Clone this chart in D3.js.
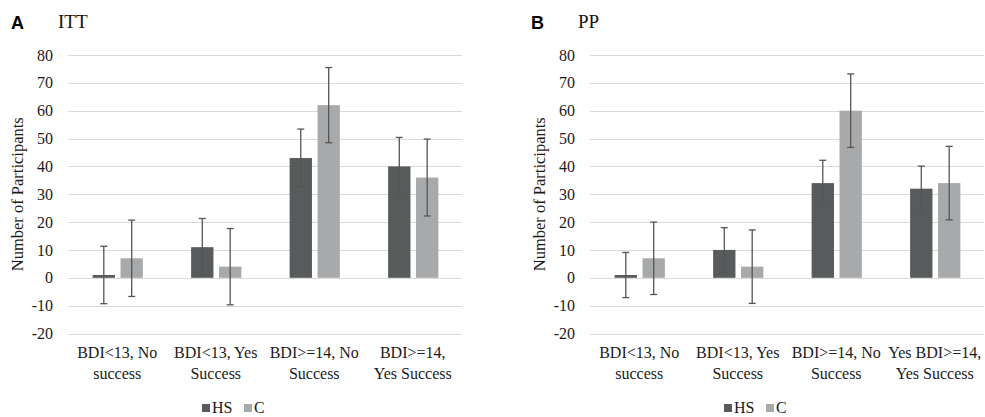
<!DOCTYPE html>
<html>
<head>
<meta charset="utf-8">
<script src="https://cdn.jsdelivr.net/npm/d3@7"></script>
<style>
  body { margin: 0; background: #fff; }
  svg { display: block; }
</style>
</head>
<body>
<div id="chart"></div>
<script>
// values
var series = ["HS", "C"];
var yTicks = [-20, -10, 0, 10, 20, 30, 40, 50, 60, 70, 80];

var catsITT = [["BDI<13, No", "success"], ["BDI<13, Yes", "Success"], ["BDI>=14, No", "Success"], ["BDI>=14,", "Yes Success"]];
var ittHS = [1, 11, 43, 40];
var ittC = [7, 4, 62, 36];
var ittErrHS = [10.3, 10.3, 10.4, 10.4];
var ittErrC = [13.7, 13.7, 13.5, 13.8];

var catsPP = [["BDI<13, No", "success"], ["BDI<13, Yes", "Success"], ["BDI>=14, No", "Success"], ["Yes BDI>=14,", "Yes Success"]];
var ppHS = [1, 10, 34, 32];
var ppC = [7, 4, 60, 34];
var ppErrHS = [8.1, 8.0, 8.2, 8.1];
var ppErrC = [13.0, 13.2, 13.2, 13.2];

var colors = { HS: "#575b5c", C: "#a7a9aa" };
var serif = "'Liberation Serif', 'Times New Roman', serif";

var W = 985, H = 417;
var svg = d3.select("#chart").append("svg")
    .attr("width", W).attr("height", H);

function drawPanel(opts) {
    var g = svg.append("g");
    var x0 = opts.left, x1 = opts.left + 394;

    var y = d3.scaleLinear().domain([-20, 80]).range([333.5, 55]);
    var x = d3.scaleBand().domain(d3.range(opts.cats.length)).range([x0, x1]);
    var xs = d3.scaleBand().domain(series)
        .range([x.bandwidth() * 0.25, x.bandwidth() * 0.76]).paddingInner(0.2);

    // panel letter + title
    g.append("text")
        .style("font-family", "'Liberation Sans', Arial, sans-serif").style("font-weight", "bold")
        .attr("x", opts.letterX).attr("y", 29).attr("font-size", 18)
        .text(opts.letter);
    g.append("text").style("font-family", serif).attr("fill", "#111")
        .attr("x", opts.letterX + opts.titleDx).attr("y", 28).attr("font-size", 19)
        .text(opts.title);

    // gridlines
    g.append("g").selectAll("line").data(yTicks).join("line")
        .attr("x1", x0).attr("x2", x1)
        .attr("y1", function(d) { return Math.round(y(d)) + 0.5; })
        .attr("y2", function(d) { return Math.round(y(d)) + 0.5; })
        .attr("stroke", "#d9d9d9").attr("stroke-width", 1);

    // y axis labels
    var ax = g.append("g")
        .attr("transform", "translate(" + (x0 - 7) + ",0)")
        .call(d3.axisLeft(y).tickValues(yTicks).tickSize(0).tickPadding(8)
            .tickFormat(function(d) { return String(d); }));
    ax.select(".domain").remove();
    ax.selectAll("text")
        .style("font-family", serif).style("font-size", "16px")
        .attr("fill", "#1a1a1a");

    g.append("text").style("font-family", serif).attr("fill", "#1a1a1a")
        .attr("transform", "translate(" + (opts.left - 45) + "," + y(30) + ") rotate(-90)")
        .attr("text-anchor", "middle").style("font-size", "16.5px")
        .text("Number of Participants");

    // bars
    var rows = [];
    opts.cats.forEach(function(c, i) {
        rows.push({ i: i, s: "HS", v: opts.hs[i], e: opts.errHS[i] });
        rows.push({ i: i, s: "C", v: opts.c[i], e: opts.errC[i] });
    });

    g.append("g").selectAll("rect").data(rows).join("rect")
        .attr("x", function(d) { return x(d.i) + xs(d.s); })
        .attr("width", xs.bandwidth())
        .attr("y", function(d) { return y(Math.max(0, d.v)); })
        .attr("height", function(d) { return Math.abs(y(d.v) - y(0)); })
        .attr("fill", function(d) { return colors[d.s]; });

    // error bars
    var eb = g.append("g").selectAll("g").data(rows).join("g")
        .attr("stroke", "#555").attr("stroke-width", 1.3);
    eb.append("line")
        .attr("x1", function(d) { return x(d.i) + xs(d.s) + xs.bandwidth() / 2; })
        .attr("x2", function(d) { return x(d.i) + xs(d.s) + xs.bandwidth() / 2; })
        .attr("y1", function(d) { return y(d.v - d.e); })
        .attr("y2", function(d) { return y(d.v + d.e); });
    [-1, 1].forEach(function(sg) {
        eb.append("line")
            .attr("x1", function(d) { return x(d.i) + xs(d.s) + xs.bandwidth() / 2 - 3.5; })
            .attr("x2", function(d) { return x(d.i) + xs(d.s) + xs.bandwidth() / 2 + 3.5; })
            .attr("y1", function(d) { return y(d.v + sg * d.e); })
            .attr("y2", function(d) { return y(d.v + sg * d.e); });
    });

    // category labels
    var cl = g.append("g").selectAll("text").data(opts.cats).join("text")
        .style("font-family", serif).style("font-size", "16px").attr("fill", "#1a1a1a")
        .attr("text-anchor", "middle")
        .attr("x", function(d, i) { return x(i) + x.bandwidth() / 2; })
        .attr("y", 358);
    cl.selectAll("tspan").data(function(d) { return d; }).join("tspan")
        .attr("x", function() { return d3.select(this.parentNode).attr("x"); })
        .attr("dy", function(d, j) { return j === 0 ? 0 : 20.5; })
        .text(function(d) { return d; });

    // legend
    var lg = g.append("g").attr("transform", "translate(" + (x0 + (x1 - x0) / 2 - 63) + ",0)");
    var litems = lg.selectAll("g").data(series).join("g")
        .attr("transform", function(d, i) { return "translate(" + (i * 42) + ",0)"; });
    litems.append("rect").attr("x", 0).attr("y", 404).attr("width", 8).attr("height", 8)
        .attr("fill", function(d) { return colors[d]; });
    litems.append("text").style("font-family", serif).style("font-size", "16px").attr("fill", "#1a1a1a")
        .attr("x", 10).attr("y", 413)
        .text(function(d) { return d; });
}

drawPanel({ left: 68, letter: "A", letterX: 11, titleDx: 47, title: "ITT",
    cats: catsITT, hs: ittHS, c: ittC, errHS: ittErrHS, errC: ittErrC });
drawPanel({ left: 590, letter: "B", letterX: 531, titleDx: 47, title: "PP",
    cats: catsPP, hs: ppHS, c: ppC, errHS: ppErrHS, errC: ppErrC });
</script>
</body>
</html>
